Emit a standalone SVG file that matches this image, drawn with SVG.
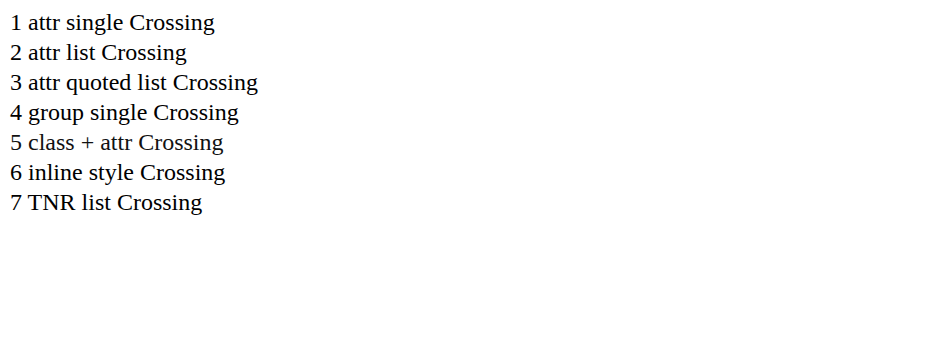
<svg xmlns="http://www.w3.org/2000/svg" width="941" height="350" viewBox="0 0 941 350">
  <style>
    .a { fill: #111; }
  </style>
  <rect width="941" height="350" fill="#fff"/>
  <text x="10" y="30" font-size="24" font-family="Liberation Serif">1 attr single Crossing</text>
  <text x="10" y="60" font-size="24" font-family="Liberation Serif, serif">2 attr list Crossing</text>
  <text x="10" y="90" font-size="24" font-family="'Liberation Serif', serif">3 attr quoted list Crossing</text>
  <g font-family="Liberation Serif"><text x="10" y="120" font-size="24">4 group single Crossing</text></g>
  <text class="a" x="10" y="150" font-size="24" font-family="Liberation Serif">5 class + attr Crossing</text>
  <text x="10" y="180" font-size="24" style="font-family: 'Liberation Serif', serif">6 inline style Crossing</text>
  <text x="10" y="210" font-size="24" font-family="Times New Roman, serif">7 TNR list Crossing</text>
</svg>
